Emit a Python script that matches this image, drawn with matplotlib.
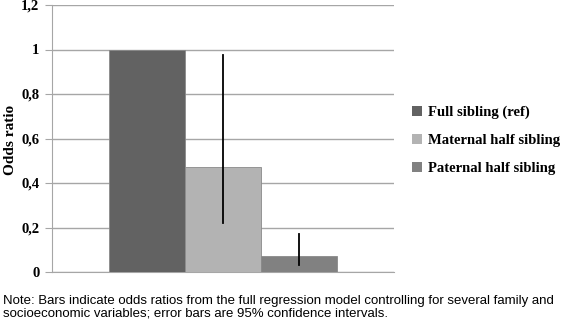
import matplotlib
matplotlib.use("Agg")
import matplotlib.pyplot as plt
from matplotlib.patches import Patch

series = ["Full sibling (ref)", "Maternal half sibling", "Paternal half sibling"]
values = [1.0, 0.47, 0.07]
ci_low = [None, 0.22, 0.03]
ci_high = [None, 0.975, 0.17]
colors = ["#626262", "#b3b3b3", "#818181"]
yticks = [0, 0.2, 0.4, 0.6, 0.8, 1.0, 1.2]
ytick_labels = ["0", "0,2", "0,4", "0,6", "0,8", "1", "1,2"]
note = ("Note: Bars indicate odds ratios from the full regression model controlling for several family and\n"
        "socioeconomic variables; error bars are 95% confidence intervals.")

serif = ["Liberation Serif", "DejaVu Serif"]
fig = plt.figure(figsize=(5.63, 3.22), dpi=100)
ax = fig.add_axes([52/563, 1-272/322, (394-52)/563, (272-5)/322])

w = 2/9
offsets = [-w, 0, w]
for i, (v, c, off) in enumerate(zip(values, colors, offsets)):
    ax.bar(off, v, width=w, color=c, edgecolor="#8a8a8a", linewidth=0.6, zorder=3)
    if ci_low[i] is not None:
        ax.plot([off, off], [ci_low[i], ci_high[i]], color="black", lw=1.3, zorder=4)

ax.set_xlim(-0.5, 0.5)
ax.set_ylim(0, 1.2)
ax.set_yticks(yticks)
ax.set_yticklabels(ytick_labels, family=serif, fontweight="bold", fontsize=10.5)
ax.set_xticks([])
ax.grid(axis="y", color="#a6a6a6", lw=1.0, zorder=0)
for s in ["top", "right"]:
    ax.spines[s].set_visible(False)
ax.spines["left"].set_color("#a6a6a6")
ax.spines["bottom"].set_color("#a6a6a6")
ax.tick_params(axis="y", length=5, color="#a6a6a6", pad=4)
ax.set_ylabel("Odds ratio", family=serif, fontweight="bold", fontsize=11)
ax.yaxis.set_label_coords((17-52)/342, (272-140)/267)

handles = [Patch(facecolor=c, edgecolor="none") for c in colors]
leg = fig.legend(handles, series, loc="upper left", bbox_to_anchor=(412/563, 1-106/322),
                 frameon=False, handlelength=0.7, handleheight=0.7, handletextpad=0.4,
                 labelspacing=1.0, prop={"family": serif, "weight": "bold", "size": 10.5},
                 borderaxespad=0, borderpad=0)

fig.text(3/563, 1-319/322, note, family=["Liberation Sans", "DejaVu Sans"], fontsize=9.5,
         va="bottom", ha="left", linespacing=1.05)

fig.savefig("out.png", dpi=100)
